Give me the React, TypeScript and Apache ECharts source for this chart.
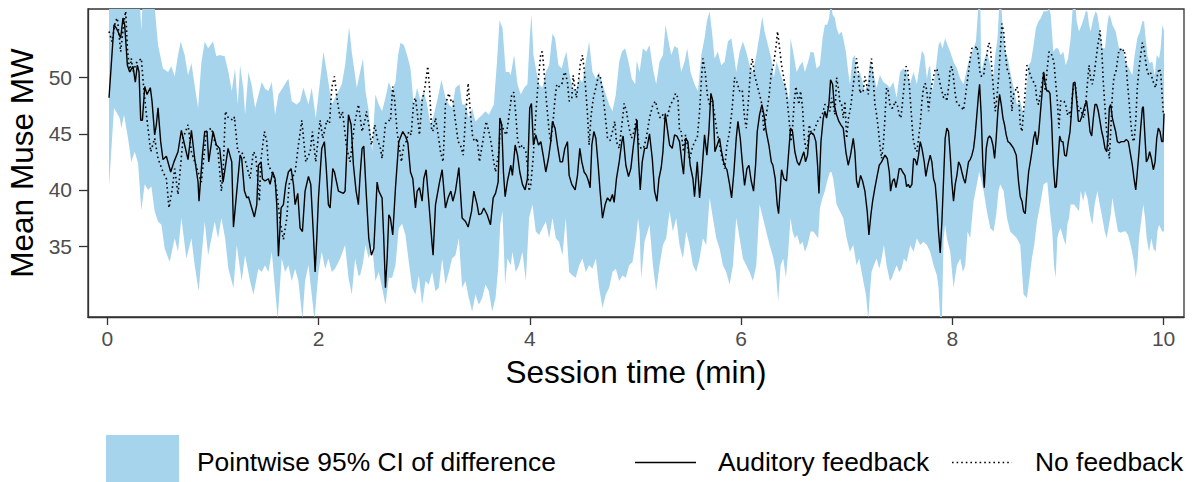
import React, { useEffect, useRef } from "react";
import * as echarts from "echarts";

// Mean Muse MW over session time (min)
const auditoryFeedback: [number, number][] = [
  [0.016, 48.2], [0.063, 54.7], [0.085, 54.4], [0.101, 54.1], [0.126, 53.5], [0.148, 55.3], [0.164, 54.7], [0.190, 51.1], [0.212, 50.5], [0.243, 51.0], [0.265, 49.6], [0.284, 51.1], [0.300, 50.5], [0.316, 46.2], [0.332, 46.2], [0.354, 49.2], [0.376, 48.5], [0.407, 49.1], [0.423, 47.9], [0.448, 44.9], [0.464, 45.8], [0.480, 47.3], [0.505, 44.3], [0.527, 42.7], [0.559, 43.0], [0.600, 41.6], [0.631, 42.5], [0.669, 43.4], [0.701, 45.3], [0.732, 44.0], [0.764, 42.7], [0.796, 45.3], [0.827, 42.8], [0.859, 40.7], [0.868, 39.0], [0.900, 43.1], [0.922, 45.2], [0.944, 45.2], [0.960, 42.5], [1.001, 45.2], [1.032, 44.0], [1.064, 43.7], [1.096, 40.7], [1.143, 43.7],
  [1.178, 42.5], [1.194, 36.7], [1.257, 43.1], [1.272, 42.8], [1.298, 39.9], [1.320, 39.3], [1.336, 39.4], [1.367, 38.4], [1.392, 37.6], [1.415, 38.7], [1.430, 42.2], [1.456, 42.5], [1.468, 41.0], [1.493, 40.8], [1.525, 41.0], [1.541, 40.5], [1.566, 41.6], [1.588, 41.0], [1.604, 38.7], [1.620, 34.1], [1.645, 38.4], [1.667, 38.7], [1.689, 40.5], [1.714, 41.6], [1.740, 41.9], [1.762, 40.5], [1.778, 38.7], [1.803, 39.7], [1.825, 36.6], [1.847, 36.3], [1.872, 39.9], [1.904, 41.2], [1.926, 40.5], [1.951, 36.0], [1.967, 32.7], [1.983, 35.7], [1.999, 39.3], [2.030, 43.7], [2.055, 44.3], [2.071, 42.2], [2.093, 38.7], [2.109, 38.4], [2.134, 41.9], [2.150, 41.6], [2.188, 39.9], [2.235, 39.7], [2.251, 39.9], [2.267, 43.4], [2.283, 46.7], [2.308, 45.8], [2.330, 42.2], [2.355, 39.9], [2.377, 38.7], [2.393, 41.3],
  [2.412, 43.7], [2.428, 43.9], [2.450, 39.9], [2.475, 35.7], [2.500, 34.2], [2.523, 34.8], [2.554, 40.7], [2.570, 39.9], [2.601, 39.3], [2.617, 35.7], [2.633, 31.3], [2.649, 33.9], [2.665, 37.8], [2.680, 37.5], [2.702, 36.0], [2.728, 40.2], [2.759, 44.3], [2.797, 45.2], [2.822, 44.8], [2.845, 44.2], [2.870, 41.6], [2.892, 41.0], [2.917, 38.4], [2.933, 39.9], [2.955, 40.2], [2.980, 39.0], [2.996, 41.0], [3.018, 41.8], [3.043, 39.0], [3.075, 35.1], [3.084, 34.2], [3.107, 38.7], [3.145, 40.7], [3.170, 41.8], [3.201, 38.4], [3.226, 39.3], [3.252, 39.9], [3.271, 39.0], [3.296, 39.9], [3.328, 42.0], [3.359, 37.5], [3.391, 37.2], [3.416, 36.7], [3.448, 38.1], [3.470, 39.9], [3.501, 38.7], [3.517, 37.8], [3.542, 37.9], [3.564, 38.4], [3.596, 37.8], [3.627, 36.9], [3.653, 39.3], [3.675, 39.7], [3.700, 40.7], [3.716, 46.4],
  [3.734, 45.8], [3.750, 41.6], [3.766, 39.4], [3.788, 40.8], [3.820, 42.2], [3.835, 41.3], [3.861, 44.0], [3.883, 43.1], [3.905, 41.6], [3.930, 40.5], [3.955, 40.0], [3.977, 41.0], [3.999, 47.3], [4.015, 47.7], [4.034, 44.0], [4.056, 44.9], [4.082, 44.0], [4.104, 44.3], [4.126, 43.1], [4.151, 41.6], [4.176, 42.8], [4.198, 44.3], [4.214, 46.1], [4.239, 45.5], [4.261, 44.0], [4.287, 42.5], [4.309, 42.5], [4.331, 43.7], [4.356, 44.3], [4.372, 41.3], [4.397, 40.5], [4.429, 40.0], [4.451, 41.3], [4.473, 43.7], [4.492, 42.5], [4.514, 41.6], [4.536, 41.3], [4.555, 40.8], [4.571, 40.2], [4.587, 44.0], [4.606, 45.2], [4.625, 44.6], [4.647, 42.2], [4.665, 39.9], [4.688, 37.5], [4.713, 38.7], [4.735, 39.3], [4.760, 39.0], [4.782, 39.6], [4.798, 38.9], [4.820, 41.0], [4.846, 42.5], [4.871, 44.3], [4.883, 44.8], [4.909, 42.2], [4.934, 41.2], [4.956, 41.9], [4.981, 44.0], [5.003, 45.5], [5.015, 46.2], [5.030, 42.5], [5.045, 40.0],
  [5.064, 42.5], [5.086, 43.7], [5.108, 43.7], [5.133, 45.0], [5.159, 42.8], [5.181, 39.9], [5.203, 39.0], [5.222, 41.0], [5.244, 42.0], [5.260, 43.4], [5.282, 46.8], [5.301, 45.5], [5.323, 44.0], [5.348, 43.7], [5.370, 44.9], [5.392, 44.8], [5.417, 44.3], [5.439, 42.5], [5.455, 41.4], [5.474, 44.6], [5.496, 44.3], [5.518, 42.2], [5.544, 41.0], [5.559, 39.4], [5.585, 42.5], [5.607, 39.3], [5.629, 41.6], [5.654, 44.9], [5.676, 43.1], [5.695, 45.2], [5.714, 48.6], [5.733, 47.9], [5.752, 43.4], [5.774, 44.0], [5.796, 44.6], [5.815, 43.4], [5.834, 42.5], [5.853, 42.0], [5.866, 41.8], [5.891, 40.5], [5.910, 39.3], [5.932, 41.6], [5.954, 44.6], [5.970, 46.1], [5.992, 44.6], [6.011, 42.5], [6.033, 40.4], [6.055, 41.9], [6.074, 42.2], [6.096, 40.8], [6.118, 39.9], [6.137, 42.2], [6.153, 45.2], [6.175, 46.7], [6.197, 47.6], [6.216, 46.7], [6.238, 45.2], [6.263, 44.0], [6.286, 42.5], [6.301, 42.2],
  [6.323, 41.0], [6.342, 38.7], [6.355, 37.9], [6.367, 39.6], [6.383, 41.8], [6.405, 41.0], [6.430, 40.8], [6.446, 42.8], [6.468, 45.5], [6.487, 45.2], [6.509, 43.4], [6.531, 42.5], [6.550, 42.2], [6.572, 42.8], [6.594, 43.4], [6.610, 42.5], [6.629, 43.1], [6.645, 44.9], [6.667, 45.1], [6.689, 44.9], [6.708, 44.3], [6.724, 42.2], [6.737, 39.7], [6.756, 44.3], [6.778, 46.4], [6.793, 47.0], [6.809, 46.4], [6.831, 47.6], [6.847, 49.8], [6.866, 49.4], [6.882, 47.6], [6.904, 46.7], [6.926, 46.1], [6.945, 45.8], [6.967, 45.5], [6.992, 43.4], [7.014, 42.2], [7.036, 43.1], [7.062, 44.6], [7.077, 43.4], [7.093, 40.8], [7.109, 40.2], [7.131, 41.3], [7.150, 40.8], [7.172, 39.9], [7.194, 38.1], [7.210, 36.0], [7.229, 37.8], [7.245, 39.0], [7.267, 40.2], [7.289, 41.3], [7.308, 42.2], [7.330, 42.5], [7.362, 43.1], [7.384, 42.8], [7.403, 41.6], [7.415, 39.9], [7.434, 40.8], [7.450, 41.0], [7.466, 40.2], [7.482, 41.0], [7.497, 41.9], [7.513, 41.9], [7.529, 41.6], [7.551, 41.3], [7.567, 40.3], [7.583, 40.5], [7.598, 40.2],
  [7.617, 40.5], [7.633, 42.8], [7.648, 42.7], [7.664, 42.2], [7.680, 43.1], [7.696, 44.3], [7.712, 43.7], [7.734, 42.5], [7.749, 41.2], [7.768, 42.2], [7.790, 43.1], [7.806, 42.5], [7.822, 41.0], [7.838, 40.5], [7.854, 38.7], [7.869, 36.3], [7.885, 34.4], [7.901, 37.2], [7.917, 41.0], [7.932, 44.6], [7.948, 45.5], [7.964, 45.2], [7.980, 43.1], [7.995, 40.7], [8.011, 39.0], [8.027, 40.5], [8.043, 41.3], [8.059, 42.5], [8.075, 42.2], [8.090, 41.6], [8.106, 41.0], [8.122, 40.6], [8.138, 41.6], [8.153, 42.5], [8.169, 42.7], [8.185, 43.1], [8.201, 43.7], [8.216, 44.9], [8.232, 46.7], [8.248, 48.5], [8.258, 49.4], [8.273, 46.7], [8.289, 42.2], [8.302, 40.2], [8.321, 43.7], [8.337, 44.6], [8.352, 44.8], [8.368, 44.6], [8.384, 44.0], [8.400, 42.8], [8.415, 44.6], [8.431, 47.0], [8.447, 48.5], [8.463, 47.6], [8.479, 46.4], [8.494, 45.8], [8.510, 44.9], [8.526, 44.3], [8.542, 44.2], [8.558, 44.0], [8.580, 43.7], [8.605, 43.1], [8.627, 40.7], [8.643, 39.4], [8.659, 39.0], [8.674, 38.1], [8.690, 37.9], [8.706, 39.9], [8.722, 41.6], [8.738, 42.5], [8.753, 43.4], [8.769, 44.6], [8.785, 45.2], [8.801, 44.0], [8.816, 44.9], [8.832, 46.7], [8.848, 48.5], [8.864, 50.5], [8.880, 49.4], [8.895, 48.8], [8.911, 48.8],
  [8.924, 48.6], [8.940, 46.1], [8.956, 42.2], [8.972, 40.2], [8.984, 40.3], [9.000, 42.5], [9.016, 44.8], [9.032, 44.3], [9.047, 44.3], [9.063, 43.1], [9.079, 43.0], [9.098, 44.3], [9.114, 45.2], [9.126, 46.7], [9.145, 49.5], [9.161, 49.6], [9.177, 47.9], [9.193, 46.1], [9.208, 46.1], [9.224, 46.5], [9.240, 47.0], [9.256, 47.6], [9.271, 47.9], [9.287, 46.7], [9.303, 45.2], [9.319, 44.8], [9.335, 46.4], [9.350, 47.6], [9.366, 47.6], [9.382, 47.0], [9.398, 46.1], [9.414, 45.2], [9.429, 44.6], [9.445, 43.7], [9.461, 43.4], [9.473, 44.6], [9.486, 47.3], [9.499, 47.6], [9.515, 46.4], [9.530, 45.8], [9.546, 45.2], [9.562, 44.3], [9.578, 44.2], [9.600, 44.3], [9.625, 44.3], [9.647, 44.5], [9.666, 44.3], [9.688, 43.1], [9.704, 42.2], [9.720, 41.0], [9.736, 40.0], [9.751, 41.6], [9.767, 43.4], [9.783, 45.5], [9.799, 47.3], [9.808, 47.4], [9.824, 44.6], [9.837, 42.5], [9.853, 42.8], [9.868, 43.4], [9.884, 42.8], [9.903, 41.8], [9.919, 42.5], [9.935, 44.6], [9.950, 45.5], [9.966, 45.2], [9.982, 44.3], [9.994, 44.3], [10.004, 46.8],
];

const noFeedback: [number, number][] = [
  [0.016, 54.1], [0.044, 53.2], [0.076, 55.0], [0.095, 55.3], [0.126, 52.3], [0.158, 55.0], [0.174, 55.9], [0.190, 52.6], [0.212, 50.5], [0.227, 51.7], [0.243, 50.5], [0.275, 51.3], [0.322, 51.7], [0.344, 49.1], [0.370, 46.7], [0.411, 43.4], [0.448, 44.6], [0.480, 42.8], [0.527, 41.6], [0.559, 41.0], [0.584, 38.4], [0.616, 40.2], [0.638, 41.9], [0.669, 39.6], [0.717, 44.6], [0.764, 45.8], [0.796, 43.4], [0.859, 41.6], [0.890, 40.7], [0.938, 45.2], [0.985, 45.5], [1.017, 44.3], [1.048, 43.4], [1.080, 39.9], [1.096, 41.6], [1.118, 47.0],
  [1.146, 46.4], [1.194, 46.2], [1.203, 46.5], [1.235, 43.4], [1.272, 43.4], [1.310, 42.5], [1.351, 41.0], [1.383, 43.4], [1.405, 43.1], [1.440, 39.0], [1.452, 42.5], [1.487, 45.2], [1.509, 44.3], [1.525, 42.2], [1.557, 41.6], [1.582, 41.0], [1.604, 39.9], [1.635, 37.2], [1.667, 35.6], [1.699, 37.5], [1.721, 40.5], [1.746, 41.0], [1.778, 41.6], [1.809, 44.0], [1.841, 46.2], [1.879, 42.5], [1.920, 43.4], [1.942, 45.2], [1.973, 42.5], [2.014, 46.2], [2.040, 44.6], [2.078, 46.2], [2.103, 45.9], [2.125, 49.1], [2.150, 50.1], [2.178, 47.9], [2.204, 46.4], [2.226, 47.0], [2.267, 43.7], [2.298, 42.5], [2.339, 45.8], [2.377, 47.6],
  [2.412, 45.2], [2.437, 46.1], [2.453, 47.0], [2.475, 45.8], [2.500, 44.0], [2.532, 45.8], [2.554, 44.6], [2.586, 43.7], [2.601, 42.8], [2.633, 45.9], [2.665, 46.2], [2.680, 46.1], [2.702, 49.2], [2.721, 47.9], [2.743, 45.2], [2.766, 43.7], [2.784, 42.5], [2.807, 44.0], [2.829, 44.3], [2.854, 45.2], [2.876, 44.9], [2.901, 47.9], [2.917, 48.2], [2.933, 47.0], [2.955, 44.9], [2.980, 47.9], [3.006, 49.1], [3.034, 51.0], [3.050, 49.1], [3.069, 45.5], [3.081, 45.2], [3.107, 46.4], [3.132, 44.9], [3.154, 43.4], [3.179, 42.5], [3.201, 47.6], [3.233, 48.6], [3.255, 47.9], [3.271, 48.0], [3.296, 46.1], [3.321, 44.3], [3.343, 44.0], [3.369, 43.1], [3.391, 46.4], [3.416, 49.5], [3.438, 46.7], [3.460, 44.6], [3.485, 44.3], [3.501, 44.6], [3.523, 42.5], [3.549, 44.0], [3.586, 46.1], [3.612, 45.2], [3.637, 44.0], [3.653, 42.8], [3.675, 41.6], [3.706, 43.4], [3.720, 45.5],
  [3.734, 45.8], [3.756, 45.2], [3.778, 44.9], [3.804, 46.7], [3.829, 48.5], [3.848, 48.7], [3.867, 46.7], [3.883, 44.6], [3.905, 43.7], [3.930, 44.0], [3.962, 43.4], [3.977, 42.2], [3.993, 39.9], [4.009, 40.5], [4.031, 42.8], [4.056, 46.7], [4.082, 50.0], [4.104, 52.2], [4.119, 52.3], [4.135, 50.5], [4.157, 47.9], [4.183, 45.2], [4.198, 44.3], [4.220, 46.1], [4.239, 48.2], [4.255, 49.4], [4.277, 49.2], [4.303, 49.4], [4.318, 50.2], [4.334, 50.5], [4.356, 49.6], [4.372, 47.9], [4.397, 48.2], [4.410, 50.2], [4.426, 49.1], [4.441, 48.2], [4.457, 49.4], [4.476, 51.1], [4.498, 52.0], [4.514, 50.8], [4.530, 48.8], [4.546, 46.7], [4.561, 44.0], [4.580, 46.7], [4.602, 48.2], [4.625, 49.1], [4.650, 50.2], [4.665, 50.2], [4.688, 48.8], [4.713, 46.7], [4.735, 44.6], [4.760, 44.4], [4.782, 45.2], [4.804, 46.1], [4.820, 44.3], [4.846, 43.7], [4.871, 45.8], [4.893, 47.7], [4.915, 47.0], [4.940, 45.5], [4.962, 44.6], [4.987, 45.2], [5.010, 46.4],
  [5.032, 44.0], [5.054, 43.7], [5.076, 43.7], [5.102, 44.6], [5.133, 46.4], [5.165, 47.6], [5.190, 47.9], [5.212, 47.0], [5.234, 46.4], [5.260, 46.7], [5.285, 46.1], [5.307, 46.7], [5.329, 47.6], [5.354, 47.9], [5.380, 48.6], [5.402, 48.2], [5.417, 45.2], [5.433, 45.2], [5.455, 43.4], [5.474, 44.9], [5.496, 43.7], [5.512, 42.7], [5.537, 43.7], [5.559, 44.3], [5.585, 44.6], [5.607, 47.0], [5.623, 49.6], [5.638, 51.7], [5.660, 50.5], [5.680, 48.5], [5.702, 47.6], [5.727, 47.9], [5.749, 46.7], [5.771, 45.2], [5.796, 44.0], [5.821, 42.8], [5.844, 41.9], [5.866, 44.0], [5.891, 45.2], [5.916, 47.3], [5.938, 50.0], [5.960, 49.6], [5.986, 48.8], [6.011, 48.9], [6.033, 46.4], [6.049, 45.5], [6.071, 48.2], [6.090, 50.8], [6.106, 51.7], [6.128, 50.2], [6.150, 49.4], [6.175, 48.5], [6.197, 47.6], [6.216, 45.2], [6.238, 46.7], [6.263, 48.2], [6.286, 50.5], [6.304, 51.0],
  [6.329, 52.6], [6.345, 54.1], [6.361, 52.9], [6.383, 51.1], [6.405, 49.9], [6.430, 48.5], [6.456, 46.1], [6.471, 44.3], [6.487, 45.5], [6.503, 47.9], [6.519, 49.2], [6.531, 48.5], [6.547, 47.6], [6.563, 48.8], [6.582, 47.3], [6.598, 44.6], [6.613, 43.7], [6.629, 43.7], [6.645, 45.8], [6.661, 45.2], [6.677, 44.9], [6.699, 45.5], [6.724, 46.1], [6.746, 46.4], [6.768, 46.7], [6.793, 47.6], [6.815, 47.6], [6.841, 47.0], [6.857, 48.2], [6.872, 47.6], [6.888, 46.7], [6.904, 50.0], [6.920, 49.1], [6.935, 47.9], [6.951, 47.6], [6.967, 46.4], [6.983, 47.9], [6.999, 44.6], [7.017, 46.4], [7.036, 47.3], [7.055, 48.8], [7.077, 50.5], [7.093, 51.7], [7.109, 50.5], [7.125, 48.6], [7.141, 48.9], [7.156, 48.8], [7.172, 50.1], [7.188, 49.4], [7.204, 48.5], [7.220, 50.5], [7.235, 51.7], [7.251, 49.9], [7.267, 47.6], [7.283, 46.7], [7.298, 45.5], [7.314, 44.0], [7.330, 42.8], [7.346, 44.0], [7.362, 46.4], [7.377, 49.1], [7.393, 48.8], [7.409, 47.6], [7.425, 47.3], [7.441, 47.3], [7.456, 47.9], [7.478, 47.6], [7.497, 46.7], [7.513, 46.4], [7.529, 47.9], [7.545, 49.4], [7.561, 51.0], [7.576, 50.8], [7.595, 49.0], [7.612, 46.7], [7.628, 44.6],
  [7.648, 43.7], [7.664, 43.4], [7.680, 44.6], [7.696, 45.8], [7.712, 47.9], [7.727, 49.1], [7.743, 49.5], [7.759, 48.8], [7.775, 47.0], [7.790, 48.5], [7.806, 49.4], [7.822, 50.1], [7.838, 50.8], [7.854, 50.7], [7.869, 50.2], [7.885, 49.4], [7.901, 48.8], [7.917, 48.2], [7.932, 48.5], [7.948, 47.9], [7.964, 49.1], [7.980, 50.8], [7.995, 51.0], [8.011, 50.0], [8.027, 48.5], [8.043, 47.7], [8.059, 47.6], [8.075, 47.4], [8.090, 47.3], [8.106, 47.1], [8.122, 48.2], [8.138, 49.4], [8.153, 50.5], [8.169, 51.7], [8.185, 52.6], [8.201, 52.6], [8.216, 52.6], [8.232, 52.8], [8.248, 51.7], [8.264, 50.2], [8.280, 50.1], [8.296, 50.2], [8.311, 51.3], [8.327, 52.0], [8.343, 53.1], [8.359, 52.9], [8.374, 50.8], [8.390, 48.8], [8.406, 47.0], [8.422, 48.2], [8.437, 49.9], [8.453, 52.3], [8.469, 54.8], [8.485, 54.1], [8.501, 52.3], [8.517, 50.8], [8.532, 50.5], [8.548, 49.6], [8.564, 47.0], [8.580, 48.5], [8.595, 48.8], [8.611, 49.2], [8.627, 48.5], [8.643, 45.8], [8.659, 45.2], [8.674, 47.0], [8.690, 48.8], [8.706, 51.1], [8.722, 50.8], [8.738, 50.2], [8.753, 49.9], [8.769, 49.6], [8.785, 49.4], [8.801, 47.9], [8.816, 47.6], [8.832, 48.5], [8.848, 49.4], [8.864, 50.5], [8.880, 48.8], [8.895, 50.5],
  [8.915, 52.3], [8.931, 52.2], [8.946, 51.9], [8.962, 51.3], [8.978, 49.6], [8.994, 47.9], [9.009, 45.5], [9.025, 47.9], [9.041, 48.0], [9.057, 47.9], [9.073, 47.6], [9.088, 46.7], [9.104, 47.0], [9.120, 46.5], [9.136, 48.5], [9.152, 49.4], [9.167, 49.1], [9.183, 47.6], [9.199, 47.0], [9.215, 47.3], [9.230, 46.7], [9.246, 46.4], [9.262, 47.6], [9.278, 49.4], [9.294, 51.1], [9.309, 49.9], [9.325, 49.4], [9.341, 50.2], [9.357, 51.4], [9.373, 52.6], [9.388, 53.5], [9.398, 54.2], [9.414, 52.6], [9.429, 49.6], [9.445, 47.3], [9.461, 45.2], [9.477, 43.7], [9.486, 42.8], [9.499, 45.2], [9.515, 48.5], [9.530, 50.1], [9.546, 50.4], [9.562, 51.4], [9.578, 52.5], [9.594, 52.5], [9.609, 52.3], [9.625, 52.5], [9.641, 51.7], [9.657, 49.6], [9.673, 47.9], [9.688, 46.1], [9.704, 44.6], [9.720, 44.3], [9.736, 46.1], [9.751, 49.1], [9.767, 50.8], [9.783, 52.0], [9.799, 53.1], [9.815, 52.6], [9.830, 51.4], [9.846, 50.5], [9.862, 50.2], [9.878, 50.4], [9.893, 49.9], [9.909, 49.4], [9.925, 49.1], [9.941, 50.2], [9.957, 50.8], [9.972, 50.5], [9.988, 48.2], [9.998, 46.7],
];

// Pointwise 95% CI of difference: upper and lower edges
const ciUpper: [number, number][] = [
  [0.016, 58], [0.300, 58], [0.322, 54.2], [0.340, 58], [0.432, 58], [0.480, 52.9], [0.527, 50.8], [0.575, 50.5], [0.606, 51.0], [0.638, 50.1], [0.669, 52.0], [0.695, 53.2], [0.732, 52.0], [0.764, 50.2], [0.796, 51.3], [0.827, 49.3], [0.859, 47.3], [0.890, 51.3], [0.922, 53.2], [0.954, 52.6], [1.001, 53.2], [1.032, 51.9], [1.064, 52.0], [1.111, 51.9],
  [1.146, 50.5], [1.178, 48.8], [1.209, 50.8], [1.235, 47.6], [1.257, 51.1], [1.288, 49.0], [1.304, 46.7], [1.336, 50.5], [1.367, 49.3], [1.399, 47.3], [1.462, 49.6], [1.493, 49.0], [1.525, 48.8], [1.557, 49.6], [1.588, 46.7], [1.620, 48.5], [1.714, 49.9], [1.746, 47.9], [1.793, 47.6], [1.825, 47.9], [1.856, 49.1], [1.904, 47.6], [1.935, 49.1], [1.973, 46.4], [1.999, 48.5], [2.046, 52.3], [2.078, 50.5], [2.125, 47.6], [2.172, 48.5], [2.220, 49.4], [2.251, 51.1], [2.289, 54.5], [2.314, 52.3], [2.362, 49.1], [2.420, 51.7],
  [2.444, 48.8], [2.475, 47.0], [2.507, 43.4], [2.538, 48.5], [2.570, 47.6], [2.601, 47.0], [2.633, 48.2], [2.665, 49.6], [2.696, 48.8], [2.728, 49.6], [2.753, 52.0], [2.775, 53.1], [2.807, 52.9], [2.838, 52.0], [2.870, 50.8], [2.901, 47.6], [2.933, 49.1], [2.965, 47.9], [2.996, 48.8], [3.028, 47.6], [3.059, 45.8], [3.091, 46.7], [3.122, 47.9], [3.163, 49.8], [3.201, 48.2], [3.233, 47.6], [3.264, 47.3], [3.296, 49.1], [3.334, 49.4], [3.359, 47.6], [3.391, 47.6], [3.422, 46.4], [3.454, 47.3], [3.485, 46.1], [3.517, 46.4], [3.549, 46.7], [3.580, 47.0], [3.612, 46.7], [3.659, 47.6], [3.691, 51.7], [3.713, 55.1],
  [3.741, 54.4], [3.772, 50.5], [3.804, 50.5], [3.819, 50.2], [3.851, 52.0], [3.883, 49.4], [3.914, 48.5], [3.946, 49.1], [3.977, 49.4], [3.999, 53.5], [4.015, 55.6], [4.034, 52.0], [4.063, 50.5], [4.088, 49.4], [4.119, 49.1], [4.151, 50.5], [4.183, 51.1], [4.214, 53.9], [4.239, 53.5], [4.271, 51.1], [4.302, 50.8], [4.325, 51.7], [4.347, 52.3], [4.372, 50.5], [4.404, 49.1], [4.435, 48.8], [4.467, 49.9], [4.498, 49.6], [4.530, 51.4], [4.561, 53.2], [4.593, 50.5], [4.625, 49.9], [4.656, 50.5], [4.688, 49.4], [4.719, 48.5], [4.751, 47.6], [4.782, 47.0], [4.814, 48.5], [4.846, 51.4], [4.871, 52.3], [4.902, 52.6], [4.934, 51.4], [4.965, 49.9], [4.997, 49.4],
  [5.012, 51.5], [5.039, 50.5], [5.070, 52.6], [5.102, 52.3], [5.133, 52.9], [5.165, 50.8], [5.196, 49.4], [5.228, 51.4], [5.260, 52.0], [5.285, 54.7], [5.307, 53.5], [5.339, 52.0], [5.370, 52.8], [5.402, 52.6], [5.433, 50.5], [5.465, 51.4], [5.490, 52.6], [5.521, 50.5], [5.559, 49.4], [5.591, 48.8], [5.623, 52.0], [5.654, 53.5], [5.676, 55.0], [5.702, 55.9], [5.724, 54.1], [5.749, 51.7], [5.780, 52.3], [5.812, 51.1], [5.844, 51.4], [5.875, 53.2], [5.907, 53.5], [5.932, 52.0], [5.954, 50.5], [5.986, 52.3], [6.017, 53.2], [6.049, 52.3], [6.080, 51.1], [6.112, 50.5], [6.144, 52.0], [6.175, 53.8], [6.200, 55.4], [6.222, 54.1], [6.254, 52.9], [6.286, 51.7], [6.310, 50.0],
  [6.336, 51.4], [6.367, 50.5], [6.399, 49.6], [6.430, 49.1], [6.456, 47.9], [6.468, 53.5], [6.493, 52.3], [6.525, 50.5], [6.557, 51.1], [6.582, 51.4], [6.604, 50.5], [6.635, 51.4], [6.658, 52.3], [6.689, 52.2], [6.714, 50.8], [6.746, 51.1], [6.771, 53.5], [6.793, 54.7], [6.815, 54.7], [6.834, 55.3], [6.850, 57], [6.866, 55.6], [6.888, 55.3], [6.904, 54.4], [6.926, 53.8], [6.951, 54.1], [6.967, 53.5], [6.992, 52.3], [7.014, 50.5], [7.030, 49.4], [7.055, 51.7], [7.077, 52.0], [7.099, 50.2], [7.125, 50.5], [7.150, 49.6], [7.172, 48.8], [7.197, 49.4], [7.220, 51.4], [7.251, 50.5], [7.283, 49.1], [7.314, 50.2], [7.346, 49.6], [7.377, 49.4], [7.409, 49.1], [7.441, 49.6], [7.472, 48.2], [7.504, 50.5], [7.535, 50.8], [7.567, 50.5],
  [7.601, 49.5], [7.633, 50.5], [7.664, 49.4], [7.696, 51.4], [7.712, 52.4], [7.734, 52.0], [7.759, 49.9], [7.775, 50.8], [7.790, 51.1], [7.806, 48.8], [7.822, 49.4], [7.847, 51.1], [7.869, 52.9], [7.885, 53.2], [7.907, 52.6], [7.932, 53.5], [7.954, 52.9], [7.980, 52.3], [8.011, 51.4], [8.043, 50.8], [8.075, 49.9], [8.106, 49.4], [8.131, 50.5], [8.153, 51.4], [8.176, 52.0], [8.201, 52.6], [8.223, 53.2], [8.239, 55.3], [8.248, 57], [8.264, 57], [8.274, 50.5], [8.296, 51.4], [8.327, 52.3], [8.359, 51.1], [8.384, 49.9], [8.406, 52.0], [8.428, 53.5], [8.447, 57], [8.460, 57], [8.475, 54.7], [8.501, 52.3], [8.526, 51.7], [8.548, 50.5], [8.580, 49.1], [8.611, 47.6], [8.643, 47.9], [8.674, 46.7], [8.699, 48.8], [8.722, 51.1], [8.744, 51.4], [8.769, 52.9], [8.791, 54.4], [8.816, 55.0], [8.838, 55.3], [8.864, 55.9],
  [8.899, 55.9], [8.915, 56.2], [8.931, 55.6], [8.956, 52.3], [8.978, 52.6], [9.000, 52.6], [9.025, 52.0], [9.051, 52.3], [9.073, 51.1], [9.095, 51.7], [9.120, 53.5], [9.145, 57], [9.161, 57], [9.177, 55.0], [9.199, 54.1], [9.224, 54.7], [9.246, 55.3], [9.262, 55.9], [9.278, 55.9], [9.294, 54.7], [9.309, 54.1], [9.335, 55.3], [9.357, 55.9], [9.373, 55.6], [9.398, 54.1], [9.420, 52.6], [9.445, 52.6], [9.467, 54.7], [9.483, 55.6], [9.499, 55.3], [9.515, 54.7], [9.546, 54.1], [9.578, 52.6], [9.609, 52.6], [9.641, 51.4], [9.673, 50.8], [9.704, 50.2], [9.726, 52.0], [9.751, 53.5], [9.776, 54.1], [9.799, 55.0], [9.815, 55.0], [9.830, 53.5], [9.846, 52.0], [9.868, 51.3], [9.893, 51.4], [9.916, 50.2], [9.935, 52.0], [9.957, 51.7], [9.972, 52.6], [9.988, 54.7], [10.004, 54.1],
];

const ciLower: [number, number][] = [
  [0.016, 40.3], [0.063, 47.3], [0.117, 46.4], [0.133, 45.5], [0.158, 46.7], [0.196, 44.6], [0.227, 42.5], [0.259, 43.4], [0.291, 42.4], [0.322, 38.2], [0.354, 40.5], [0.385, 40.0], [0.417, 40.3], [0.448, 38.1], [0.480, 37.2], [0.512, 36.9], [0.543, 34.8], [0.590, 33.6], [0.638, 35.7], [0.669, 34.5], [0.701, 37.5], [0.748, 33.9], [0.796, 35.7], [0.827, 33.3], [0.865, 31.0], [0.890, 33.9], [0.922, 37.2], [0.954, 34.2], [1.017, 37.2], [1.048, 35.7], [1.080, 37.5],
  [1.115, 35.7], [1.146, 33.0], [1.194, 31.3], [1.225, 35.1], [1.272, 31.9], [1.304, 34.2], [1.351, 31.9], [1.383, 30.7], [1.430, 33.0], [1.462, 32.7], [1.493, 33.3], [1.525, 32.7], [1.557, 34.5], [1.613, 28.5], [1.651, 33.9], [1.683, 32.7], [1.714, 33.3], [1.746, 31.9], [1.778, 33.0], [1.809, 31.9], [1.847, 28.5], [1.872, 31.9], [1.904, 33.3], [1.961, 28.5], [1.999, 32.7], [2.030, 34.5], [2.062, 33.0], [2.093, 33.9], [2.125, 32.7], [2.156, 33.0], [2.204, 33.9], [2.251, 35.1], [2.283, 32.2], [2.314, 30.7], [2.346, 33.9], [2.377, 32.4], [2.393, 32.4], [2.420, 33.5],
  [2.444, 35.1], [2.475, 33.9], [2.507, 35.1], [2.538, 31.9], [2.570, 32.7], [2.601, 31.3], [2.633, 29.8], [2.665, 32.2], [2.696, 32.2], [2.728, 33.3], [2.759, 36.6], [2.791, 37.0], [2.822, 36.0], [2.854, 33.6], [2.886, 31.3], [2.917, 30.7], [2.949, 32.4], [2.980, 29.8], [3.012, 31.9], [3.043, 31.6], [3.075, 32.7], [3.107, 31.0], [3.138, 31.3], [3.170, 33.9], [3.201, 31.6], [3.233, 32.7], [3.264, 33.9], [3.296, 34.2], [3.328, 35.7], [3.359, 31.3], [3.391, 31.9], [3.422, 30.4], [3.454, 29.2], [3.485, 30.7], [3.517, 29.8], [3.549, 30.4], [3.580, 31.6], [3.612, 31.0], [3.643, 29.2], [3.675, 30.4], [3.700, 33.0], [3.720, 37.0],
  [3.741, 38.1], [3.766, 31.6], [3.788, 33.9], [3.820, 33.3], [3.835, 34.5], [3.867, 32.7], [3.898, 33.3], [3.930, 34.5], [3.962, 31.9], [3.993, 37.5], [4.025, 38.7], [4.056, 36.3], [4.088, 36.0], [4.119, 36.6], [4.151, 37.2], [4.183, 35.7], [4.214, 37.5], [4.246, 35.7], [4.277, 35.4], [4.309, 34.2], [4.340, 37.5], [4.372, 32.7], [4.404, 32.4], [4.435, 32.2], [4.467, 33.3], [4.498, 33.9], [4.530, 32.7], [4.561, 33.3], [4.593, 33.0], [4.625, 33.9], [4.656, 31.3], [4.688, 29.5], [4.719, 30.7], [4.751, 31.3], [4.782, 32.7], [4.814, 33.0], [4.846, 31.9], [4.877, 32.4], [4.909, 32.2], [4.940, 33.3], [4.972, 33.6], [5.003, 35.5],
  [5.025, 37.5], [5.039, 36.3], [5.054, 32.1], [5.086, 35.4], [5.133, 36.9], [5.165, 33.3], [5.196, 31.0], [5.228, 33.3], [5.260, 35.1], [5.291, 35.7], [5.323, 38.1], [5.354, 36.3], [5.386, 37.5], [5.417, 35.1], [5.449, 33.9], [5.481, 36.3], [5.512, 35.1], [5.544, 33.3], [5.575, 32.7], [5.607, 33.9], [5.638, 35.7], [5.670, 35.1], [5.702, 39.3], [5.733, 37.5], [5.765, 35.7], [5.796, 34.8], [5.828, 33.3], [5.859, 32.7], [5.891, 31.6], [5.923, 33.3], [5.954, 37.5], [5.986, 35.7], [6.017, 33.9], [6.049, 33.3], [6.080, 32.7], [6.112, 31.9], [6.144, 33.3], [6.175, 38.7], [6.207, 37.5], [6.238, 36.3], [6.270, 35.1],
  [6.304, 34.0], [6.329, 32.7], [6.351, 30.1], [6.374, 33.3], [6.399, 33.9], [6.424, 32.2], [6.446, 34.5], [6.468, 37.5], [6.487, 36.3], [6.509, 35.7], [6.531, 36.0], [6.557, 35.1], [6.582, 35.4], [6.604, 34.5], [6.629, 35.1], [6.658, 36.3], [6.683, 36.3], [6.708, 36.0], [6.730, 35.7], [6.746, 38.4], [6.771, 39.3], [6.793, 39.9], [6.815, 40.8], [6.841, 41.6], [6.856, 41.6], [6.872, 41.0], [6.888, 39.9], [6.904, 38.7], [6.935, 38.1], [6.967, 37.5], [6.999, 35.7], [7.030, 34.5], [7.062, 35.1], [7.093, 33.3], [7.118, 33.9], [7.141, 32.7], [7.163, 31.6], [7.182, 30.7], [7.204, 28.5], [7.220, 30.9], [7.235, 32.7], [7.257, 33.3], [7.283, 33.9], [7.308, 33.0], [7.330, 33.9], [7.352, 35.1], [7.377, 33.3], [7.409, 31.9], [7.425, 32.1], [7.447, 32.7], [7.472, 33.3], [7.497, 32.7], [7.519, 33.0], [7.541, 33.9], [7.567, 33.6],
  [7.601, 35.1], [7.633, 34.5], [7.664, 35.7], [7.696, 35.1], [7.727, 35.4], [7.759, 35.1], [7.790, 34.5], [7.822, 33.3], [7.854, 32.4], [7.869, 31.3], [7.885, 28.5], [7.901, 28.5], [7.917, 35.7], [7.932, 36.9], [7.948, 35.7], [7.980, 34.5], [8.011, 31.3], [8.043, 33.3], [8.075, 33.9], [8.100, 32.7], [8.122, 33.3], [8.144, 36.3], [8.169, 35.7], [8.201, 39.0], [8.232, 40.5], [8.254, 41.6], [8.270, 41.0], [8.296, 39.9], [8.327, 38.1], [8.359, 36.6], [8.390, 36.3], [8.415, 37.8], [8.437, 39.9], [8.453, 40.5], [8.485, 39.9], [8.517, 37.5], [8.548, 36.3], [8.580, 36.0], [8.611, 35.7], [8.643, 35.1], [8.674, 30.7], [8.706, 30.4], [8.731, 32.2], [8.753, 33.9], [8.775, 35.1], [8.801, 37.2], [8.832, 38.7], [8.864, 40.5],
  [8.899, 40.7], [8.924, 38.1], [8.946, 36.3], [8.962, 33.3], [8.978, 32.2], [8.994, 35.7], [9.009, 36.3], [9.025, 36.6], [9.051, 35.7], [9.073, 35.1], [9.088, 36.9], [9.104, 37.5], [9.120, 38.7], [9.152, 38.7], [9.177, 38.4], [9.199, 38.1], [9.215, 39.9], [9.240, 39.0], [9.256, 39.9], [9.278, 39.3], [9.303, 37.8], [9.325, 36.9], [9.347, 38.7], [9.373, 39.9], [9.395, 38.7], [9.420, 37.5], [9.442, 36.3], [9.461, 35.7], [9.483, 36.9], [9.499, 37.8], [9.515, 39.3], [9.530, 38.4], [9.546, 37.5], [9.568, 36.3], [9.594, 36.2], [9.619, 36.3], [9.641, 36.3], [9.663, 36.0], [9.688, 35.1], [9.714, 33.9], [9.736, 32.2], [9.751, 33.3], [9.767, 35.7], [9.783, 36.9], [9.808, 38.7], [9.824, 37.5], [9.840, 35.7], [9.862, 34.5], [9.884, 35.7], [9.903, 34.8], [9.925, 34.5], [9.941, 36.3], [9.957, 36.9], [9.972, 36.6], [9.988, 36.3], [10.004, 36.3],
];

const xTicks = [0, 2, 4, 6, 8, 10];
const yTicks = [35, 40, 45, 50];

const BAND = "#a6d4ec";
const FONT = "'Liberation Sans', Arial, Helvetica, sans-serif";

export default function App() {
  const ref = useRef<HTMLDivElement>(null);

  useEffect(() => {
    if (!ref.current) return;
    const chart = echarts.init(ref.current, null, { renderer: "svg" });
    const lowerRev = ciLower.slice().reverse();
    chart.setOption({
      animation: false,
      backgroundColor: "#ffffff",
      grid: {
        left: 88,
        top: 9,
        width: 1096,
        height: 308,
        show: true,
        borderColor: "#333333",
        borderWidth: 1.3,
        backgroundColor: "transparent",
        containLabel: false,
        outerBoundsMode: "none",
      },
      xAxis: {
        type: "value",
        min: -0.183,
        max: 10.193,
        splitLine: { show: false },
        axisLine: { show: true, onZero: false, lineStyle: { color: "#333333", width: 1.3 } },
        axisTick: { show: true, customValues: xTicks, length: 8, lineStyle: { color: "#333333", width: 1.3 } },
        axisLabel: { customValues: xTicks, color: "#4d4d4d", fontSize: 21, fontFamily: FONT, margin: 11 },
        name: "Session time (min)",
        nameLocation: "middle",
        nameGap: 39,
        nameTextStyle: { color: "#000000", fontSize: 31.5, fontFamily: FONT },
      },
      yAxis: {
        type: "value",
        min: 28.7,
        max: 56.1,
        splitLine: { show: false },
        axisLine: { show: true, onZero: false, lineStyle: { color: "#333333", width: 1.3 } },
        axisTick: { show: true, customValues: yTicks, length: 9, lineStyle: { color: "#333333", width: 1.3 } },
        axisLabel: { customValues: yTicks, color: "#4d4d4d", fontSize: 21, fontFamily: FONT, margin: 16 },
        name: "Mean Muse MW",
        nameLocation: "middle",
        nameGap: 50,
        nameTextStyle: { color: "#000000", fontSize: 31.5, fontFamily: FONT },
      },
      series: [
        {
          type: "custom",
          name: "Pointwise 95% CI of difference",
          clip: true,
          silent: true,
          data: [[5, 40]],
          renderItem: (_params: any, api: any) => {
            const pts = ciUpper.map((p) => api.coord(p)).concat(lowerRev.map((p) => api.coord(p)));
            return { type: "polygon", shape: { points: pts }, style: { fill: BAND, stroke: null } };
          },
        },
        {
          type: "line",
          name: "Auditory feedback",
          data: auditoryFeedback,
          showSymbol: false,
          clip: true,
          lineStyle: { color: "#000000", width: 1.4 },
          silent: true,
        },
        {
          type: "line",
          name: "No feedback",
          data: noFeedback,
          showSymbol: false,
          clip: true,
          lineStyle: { color: "#000000", width: 1.6, type: [1.6, 3.0] },
          silent: true,
        },
      ],
      graphic: [
        { type: "rect", shape: { x: 106, y: 435, width: 73, height: 47 }, style: { fill: BAND } },
        {
          type: "text",
          x: 197,
          y: 462,
          style: { text: "Pointwise 95% CI of difference", fontSize: 26.4, fontFamily: FONT, fill: "#000000", align: "left", verticalAlign: "middle" },
        },
        { type: "line", shape: { x1: 635, y1: 462.5, x2: 696, y2: 462.5 }, style: { stroke: "#000000", lineWidth: 1.4 } },
        {
          type: "text",
          x: 718,
          y: 462,
          style: { text: "Auditory feedback", fontSize: 26.4, fontFamily: FONT, fill: "#000000", align: "left", verticalAlign: "middle" },
        },
        { type: "line", shape: { x1: 952, y1: 462.5, x2: 1012, y2: 462.5 }, style: { stroke: "#000000", lineWidth: 1.6, lineDash: [1.6, 3.0] } },
        {
          type: "text",
          x: 1035,
          y: 462,
          style: { text: "No feedback", fontSize: 26.4, fontFamily: FONT, fill: "#000000", align: "left", verticalAlign: "middle" },
        },
      ],
    });
    return () => chart.dispose();
  }, []);

  return (
    <div
      ref={ref}
      style={{ position: "fixed", left: 0, top: 0, width: 1192, height: 482, background: "#fff" }}
    />
  );
}
